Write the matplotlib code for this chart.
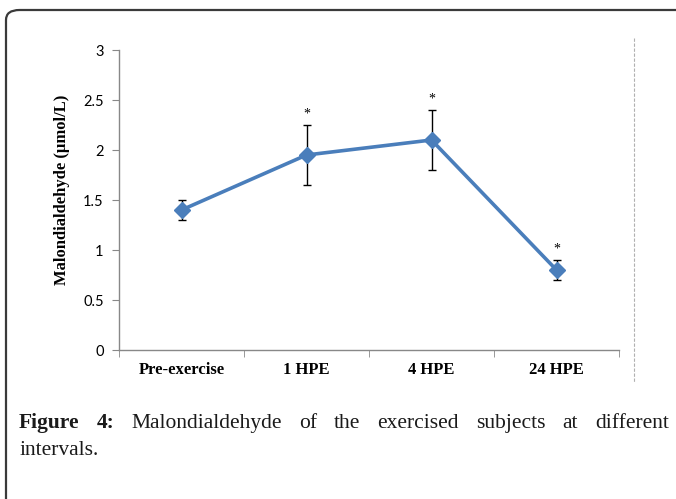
import matplotlib.pyplot as plt
from matplotlib.patches import FancyBboxPatch
from matplotlib.lines import Line2D

categories = ['Pre-exercise', '1 HPE', '4 HPE', '24 HPE']
mda = [1.4, 1.95, 2.1, 0.8]
mda_err = [0.1, 0.3, 0.3, 0.1]
significant = [False, True, True, True]
yticks = [0, 0.5, 1, 1.5, 2, 2.5, 3]
ytick_labels = ['0', '0.5', '1', '1.5', '2', '2.5', '3']
caption_words = ['Malondialdehyde', 'of', 'the', 'exercised', 'subjects', 'at', 'different']

W, H = 676, 499
fig = plt.figure(figsize=(W / 100, H / 100), dpi=100)

# panel frame (rounded corner, runs off the right/bottom edge)
frame = FancyBboxPatch((6 / W, -0.2), 1.2, 1.2 - 10 / H,
                       boxstyle='round,pad=0,rounding_size=0.02',
                       transform=fig.transFigure, fill=False,
                       edgecolor='#3a3a3a', linewidth=1.6)
fig.add_artist(frame)

# dashed separator on the right
fig.add_artist(Line2D([634 / W, 634 / W], [1 - 38 / H, 1 - 383 / H],
                      transform=fig.transFigure, color='#b0b0b0',
                      linewidth=0.8, linestyle=(0, (3, 1.5))))

ax = fig.add_axes([119 / W, 1 - 350 / H, 500 / W, 300 / H])
x = range(len(categories))
ax.errorbar(x, mda, yerr=mda_err, fmt='none', ecolor='black',
            elinewidth=1.0, capsize=3, capthick=1.0, zorder=2)
ax.plot(x, mda, color='#4a7ebb', linewidth=2.6, marker='D',
        markersize=8, zorder=3)

for i, s in enumerate(significant):
    if s:
        ax.text(i, mda[i] + mda_err[i] + 0.11, '*', ha='center', va='center',
                fontsize=10, family='Liberation Serif')

ax.set_xlim(-0.5, len(categories) - 0.5)
ax.set_ylim(0, 3)
ax.set_yticks(yticks)
ax.set_yticklabels(ytick_labels, family='Lato', fontsize=10.5)
ax.set_xticks(list(x))
ax.set_xticklabels(categories, family='Liberation Serif',
                   fontweight='bold', fontsize=12)
ax.set_xticks([i + 0.5 for i in range(-1, len(categories))], minor=True)
ax.tick_params(axis='x', which='major', length=0, pad=9)
ax.tick_params(axis='x', which='minor', length=5, color='#888888', direction='out')
ax.tick_params(axis='y', length=5, color='#888888', direction='out', pad=6)

for side in ['top', 'right']:
    ax.spines[side].set_visible(False)
for side in ['left', 'bottom']:
    ax.spines[side].set_color('#888888')
    ax.spines[side].set_linewidth(1.0)

ax.set_ylabel('Malondialdehyde (µmol/L)', family='Liberation Serif',
              fontweight='bold', fontsize=12)
ax.yaxis.set_label_coords(-0.098, 0.533)

# caption, justified on the first line
fig.canvas.draw()
r = fig.canvas.get_renderer()
y1 = 1 - 428 / H
y2 = 1 - 455 / H
parts = [('Figure', 'bold'), ('4:', 'bold')] + [(w, 'normal') for w in caption_words]
texts = []
for w, wt in parts:
    t = fig.text(0, y1, w, family='Liberation Serif', fontweight=wt,
                 fontsize=15.5, va='baseline', ha='left', color='#1a1a1a')
    texts.append(t)
widths = [t.get_window_extent(r).width for t in texts]
left, right = 19, 669
gap = (right - left - sum(widths)) / (len(texts) - 1)
xpos = left
for t, w in zip(texts, widths):
    t.set_x(xpos / W)
    xpos += w + gap
fig.text(19 / W, y2, 'intervals.', family='Liberation Serif', fontsize=15.5,
         va='baseline', ha='left', color='#1a1a1a')

fig.savefig('out.png', dpi=100)
